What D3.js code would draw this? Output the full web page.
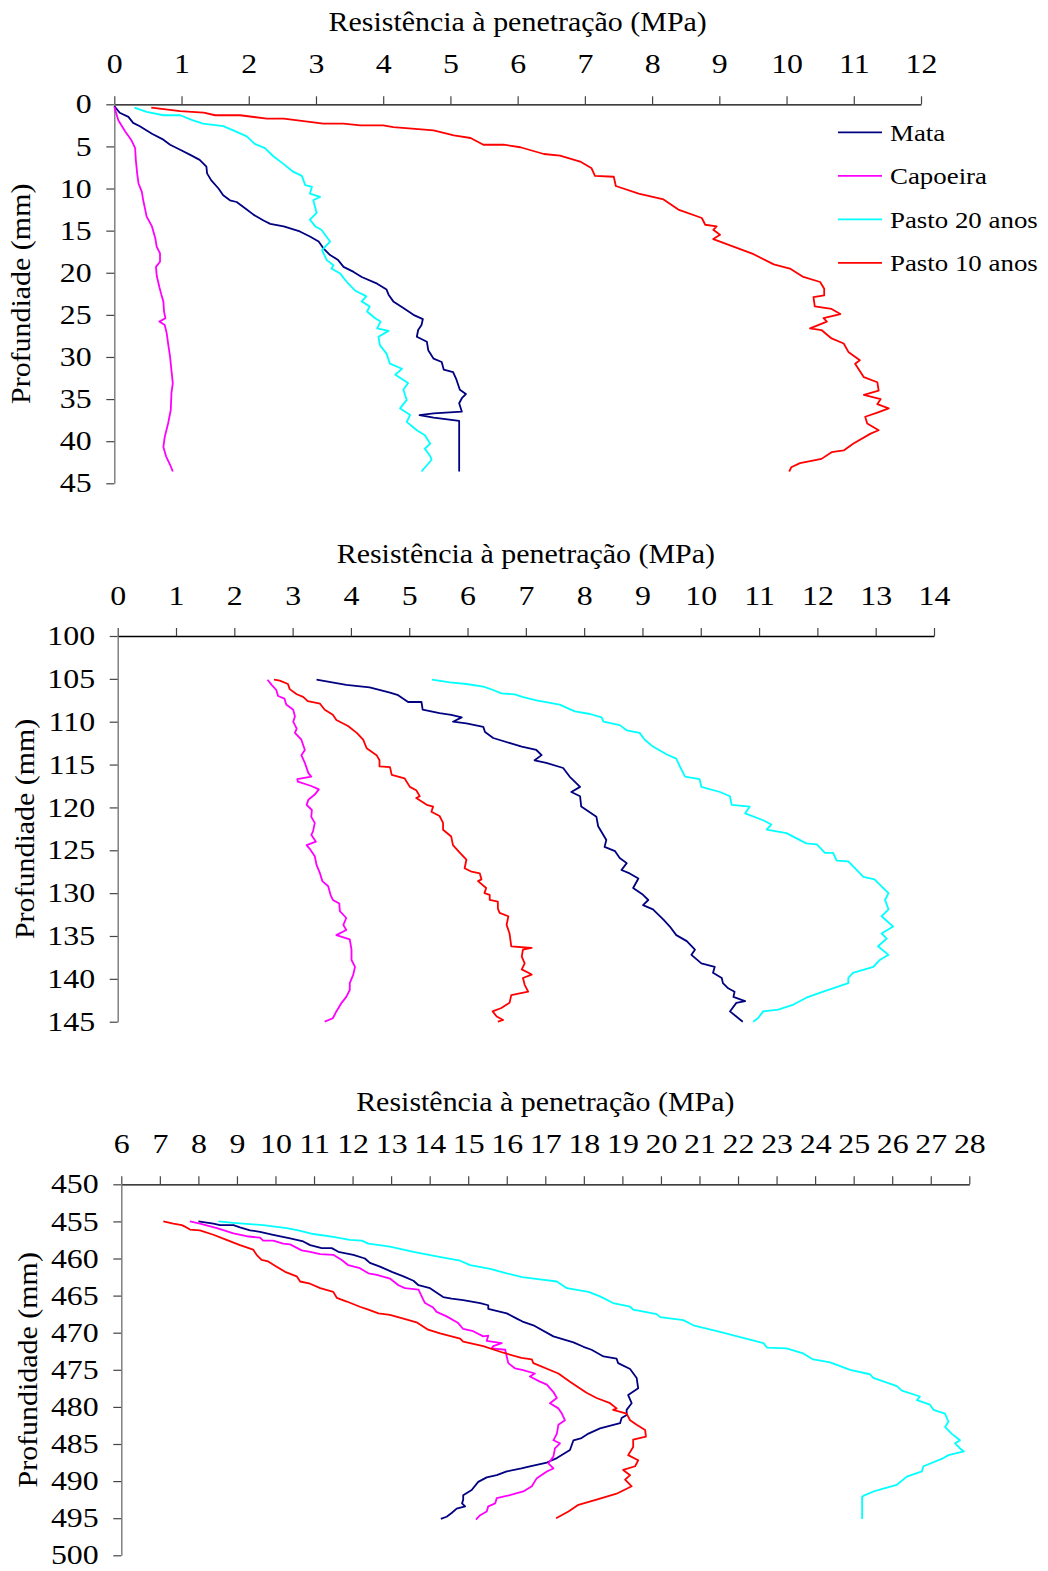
<!DOCTYPE html>
<html>
<head>
<meta charset="utf-8">
<script src="https://cdn.jsdelivr.net/npm/d3@7.9.0/dist/d3.min.js"></script>
<style>
  body { margin: 0; background: #fff; }
  svg { display: block; }
  text { font-family: "Liberation Serif", "Times New Roman", serif; fill: #000; }
</style>
</head>
<body>
<svg id="chart" width="1048" height="1571"></svg>
<script>
const seriesNames = ['Mata', 'Capoeira', 'Pasto 20 anos', 'Pasto 10 anos'];
const seriesColors = ['#000080', '#ff00ff', '#00ffff', '#ff0000'];

// each point: [resistance (MPa), depth (mm)]
// --- top panel, 0-45 mm
const mata1 = [[0,0.2],[0.08,1.0],[0.21,1.5],[0.28,2.2],[0.38,2.6],[0.56,3.5],[0.73,4.2],[0.83,4.8],[0.98,5.4],[1.13,6.0],[1.27,6.6],[1.37,7.4],[1.38,8.2],[1.44,9.0],[1.55,10.0],[1.62,10.8],[1.72,11.4],[1.82,11.6],[1.97,12.5],[2.07,13.1],[2.22,13.8],[2.32,14.2],[2.52,14.5],[2.76,15.1],[2.91,15.7],[3.04,16.3],[3.11,17.1],[3.21,17.9],[3.33,18.5],[3.41,19.3],[3.56,19.9],[3.68,20.5],[3.91,21.3],[4.05,22.0],[4.08,22.6],[4.15,23.4],[4.30,24.2],[4.45,25.0],[4.59,25.5],[4.57,26.2],[4.52,26.8],[4.50,27.6],[4.65,28.2],[4.67,29.2],[4.75,30.2],[4.87,30.6],[4.90,31.5],[5.04,31.8],[5.09,32.7],[5.14,33.9],[5.23,34.4],[5.17,34.9],[5.13,35.5],[5.17,36.5],[4.75,36.7],[4.54,36.9],[4.75,37.2],[5.13,37.6],[5.13,43.6]];
const capoeira1 = [[0,0.3],[0.06,1.9],[0.16,3.2],[0.25,4.2],[0.31,5.2],[0.32,6.6],[0.34,8.2],[0.36,9.4],[0.41,10.4],[0.43,11.4],[0.46,12.5],[0.48,13.3],[0.56,14.5],[0.61,15.9],[0.63,16.9],[0.68,17.7],[0.68,18.7],[0.62,19.3],[0.63,20.3],[0.67,21.7],[0.70,22.6],[0.73,23.4],[0.74,24.6],[0.76,25.4],[0.67,25.8],[0.75,26.2],[0.78,27.2],[0.80,28.4],[0.83,30.0],[0.85,31.6],[0.87,33.1],[0.85,34.3],[0.84,36.3],[0.80,37.9],[0.75,39.5],[0.73,40.7],[0.77,41.8],[0.83,42.8],[0.87,43.6]];
const pasto20_1 = [[0.30,0.4],[0.48,0.9],[0.73,1.3],[0.98,1.3],[1.17,1.9],[1.32,2.3],[1.62,2.6],[1.77,3.1],[1.97,3.8],[2.09,4.7],[2.24,5.2],[2.37,6.2],[2.52,7.1],[2.66,8.0],[2.79,8.5],[2.84,9.6],[2.94,9.8],[2.91,10.6],[3.06,11.0],[2.96,11.4],[3.01,12.9],[2.91,13.7],[2.99,14.5],[3.08,14.9],[3.21,16.3],[3.09,17.3],[3.16,18.5],[3.26,19.1],[3.23,19.5],[3.36,20.1],[3.46,21.1],[3.58,22.1],[3.75,22.8],[3.68,23.4],[3.80,24.0],[3.76,24.6],[3.88,25.4],[3.96,25.8],[3.91,26.6],[4.08,26.9],[3.93,27.6],[3.95,28.6],[4.05,29.6],[4.10,30.8],[4.28,31.4],[4.18,32.1],[4.37,33.1],[4.30,33.9],[4.35,35.1],[4.25,36.1],[4.40,36.9],[4.35,37.7],[4.50,38.7],[4.62,39.3],[4.70,40.3],[4.62,40.9],[4.70,41.8],[4.72,42.2],[4.57,43.6]];
const pasto10_1 = [[0.55,0.4],[0.98,0.8],[1.33,1.0],[1.50,1.3],[1.87,1.3],[2.27,1.7],[2.52,1.7],[3.11,2.3],[3.41,2.3],[3.66,2.5],[4.00,2.5],[4.15,2.7],[4.75,3.1],[5.05,3.7],[5.30,4.0],[5.49,4.8],[5.79,4.8],[6.04,5.1],[6.39,5.9],[6.63,6.1],[6.93,6.8],[7.10,7.6],[7.15,8.5],[7.43,8.6],[7.46,9.7],[7.80,10.6],[8.17,11.3],[8.39,12.5],[8.74,13.5],[8.79,14.3],[8.96,14.5],[8.91,14.9],[9.01,15.5],[8.91,16.0],[9.21,16.9],[9.51,17.8],[9.81,19.0],[10.05,19.5],[10.25,20.5],[10.50,21.1],[10.56,21.9],[10.56,22.7],[10.40,22.9],[10.42,24.0],[10.67,24.3],[10.80,24.9],[10.55,25.4],[10.60,25.8],[10.35,26.6],[10.52,26.8],[10.67,27.8],[10.85,28.4],[10.92,29.4],[11.09,30.4],[11.02,30.8],[11.15,32.4],[11.35,33.0],[11.37,34.0],[11.15,34.5],[11.40,35.0],[11.35,35.6],[11.52,36.1],[11.35,36.6],[11.17,37.1],[11.20,37.9],[11.37,38.7],[11.25,39.1],[10.99,40.3],[10.85,41.1],[10.67,41.3],[10.52,42.1],[10.20,42.6],[10.07,43.1],[10.04,43.6]];

// --- middle panel, 100-145 mm
const mata2 = [[3.41,105.1],[3.92,105.7],[4.32,106.0],[4.67,106.6],[4.81,106.9],[4.98,107.7],[5.21,107.7],[5.23,108.6],[5.52,109.0],[5.72,109.2],[5.90,109.5],[5.75,110.0],[5.98,110.2],[6.27,110.6],[6.30,111.2],[6.44,111.9],[6.73,112.5],[6.93,112.9],[7.18,113.3],[7.27,113.9],[7.15,114.5],[7.35,114.8],[7.64,115.4],[7.75,116.4],[7.93,117.6],[7.78,118.2],[7.93,118.7],[7.95,119.9],[8.21,121.1],[8.24,122.2],[8.38,123.8],[8.35,124.6],[8.53,125.1],[8.61,125.9],[8.73,126.5],[8.64,127.3],[8.78,127.7],[8.93,128.3],[8.84,129.4],[9.01,130.2],[9.10,130.8],[9.01,131.4],[9.18,131.9],[9.36,133.1],[9.47,133.9],[9.58,134.9],[9.76,135.6],[9.90,136.6],[9.84,137.2],[10.01,138.2],[10.24,138.6],[10.21,139.3],[10.36,139.9],[10.38,140.5],[10.47,141.1],[10.58,141.5],[10.56,142.1],[10.76,142.6],[10.61,142.8],[10.50,143.8],[10.61,144.4],[10.72,145.0]];
const capoeira2 = [[2.57,105.1],[2.64,105.7],[2.72,106.3],[2.75,107.0],[2.86,107.3],[2.89,108.0],[3.01,108.6],[3.04,109.4],[3.01,110.0],[3.07,110.8],[3.04,111.3],[3.15,112.1],[3.21,113.3],[3.15,113.9],[3.21,114.8],[3.27,116.0],[3.32,116.4],[3.08,116.7],[3.09,117.0],[3.32,117.5],[3.45,117.9],[3.38,118.5],[3.27,119.1],[3.24,119.7],[3.33,120.3],[3.32,121.1],[3.38,121.8],[3.35,122.8],[3.32,123.2],[3.40,124.0],[3.24,124.4],[3.29,124.8],[3.38,125.7],[3.41,126.7],[3.47,127.7],[3.51,128.6],[3.61,129.2],[3.65,130.2],[3.69,130.8],[3.80,131.2],[3.81,132.1],[3.92,132.9],[3.87,133.7],[3.92,134.3],[3.75,134.9],[3.98,135.4],[4.01,136.6],[4.01,137.8],[4.07,138.6],[4.04,139.5],[3.98,140.5],[3.98,141.3],[3.92,142.1],[3.84,142.8],[3.75,143.8],[3.69,144.6],[3.55,145.0]];
const pasto20_2 = [[5.39,105.1],[5.70,105.4],[5.98,105.6],[6.27,105.9],[6.44,106.3],[6.58,106.7],[6.81,106.8],[6.94,107.1],[7.18,107.5],[7.58,108.0],[7.84,108.8],[8.10,109.1],[8.30,109.5],[8.33,110.0],[8.61,110.4],[8.73,111.0],[8.95,111.3],[9.04,112.1],[9.18,112.9],[9.41,113.8],[9.58,114.3],[9.64,115.2],[9.73,116.4],[9.98,116.7],[10.01,117.6],[10.33,118.2],[10.50,118.7],[10.53,119.7],[10.84,119.9],[10.76,120.7],[11.07,121.5],[11.21,122.0],[11.13,122.6],[11.47,123.0],[11.81,124.2],[11.99,124.3],[12.13,125.3],[12.27,125.3],[12.33,126.2],[12.53,126.3],[12.79,128.1],[12.98,128.4],[13.10,129.2],[13.22,130.0],[13.16,130.8],[13.22,131.9],[13.10,132.7],[13.30,133.9],[13.10,134.7],[13.19,135.3],[13.04,136.2],[13.22,137.2],[13.07,137.8],[12.96,138.6],[12.61,139.3],[12.53,139.9],[12.53,140.5],[12.10,141.5],[11.81,142.2],[11.59,143.0],[11.33,143.6],[11.07,143.8],[10.98,144.6],[10.90,145.0]];
const pasto10_2 = [[2.68,105.1],[2.78,105.2],[2.92,105.6],[2.95,106.2],[3.07,106.8],[3.18,107.1],[3.26,107.6],[3.47,107.9],[3.55,108.6],[3.69,109.2],[3.75,109.8],[3.95,110.5],[4.10,111.3],[4.21,112.1],[4.27,113.1],[4.44,113.9],[4.49,114.5],[4.49,115.2],[4.67,115.3],[4.70,116.2],[4.92,116.6],[5.01,117.6],[5.12,118.0],[5.18,118.7],[5.12,118.9],[5.30,119.7],[5.41,119.9],[5.38,120.5],[5.52,121.0],[5.58,121.8],[5.58,122.6],[5.72,123.4],[5.75,124.4],[5.87,125.3],[5.98,126.1],[5.95,127.1],[6.07,127.5],[6.21,127.7],[6.24,128.4],[6.18,128.6],[6.32,129.4],[6.29,130.0],[6.38,130.2],[6.38,130.8],[6.52,131.0],[6.52,131.8],[6.55,132.3],[6.70,132.7],[6.67,133.7],[6.72,134.7],[6.75,136.2],[7.10,136.4],[6.95,136.6],[6.93,137.4],[6.98,138.2],[6.93,138.9],[7.10,139.5],[6.95,139.9],[6.98,140.7],[7.04,141.5],[6.75,141.9],[6.72,142.8],[6.58,143.4],[6.43,143.8],[6.50,144.4],[6.61,144.8],[6.52,145.0]];

// --- bottom panel, 450-500 mm
const mata3 = [[8.00,455.0],[8.39,455.3],[8.56,455.5],[8.91,455.5],[9.08,455.8],[9.34,456.2],[9.60,456.4],[9.94,456.8],[10.38,457.3],[10.72,457.7],[10.90,458.2],[11.20,458.6],[11.46,458.6],[11.63,459.1],[12.02,459.5],[12.32,460.0],[12.45,460.6],[12.71,461.1],[13.02,461.8],[13.32,462.4],[13.58,463.0],[13.71,463.6],[14.01,464.0],[14.35,465.2],[14.57,465.4],[14.87,465.6],[15.31,466.0],[15.52,466.3],[15.52,466.8],[16.00,467.4],[16.26,468.1],[16.41,468.5],[16.69,469.0],[17.21,470.5],[17.73,471.3],[17.99,471.9],[18.20,472.3],[18.51,473.2],[18.85,473.5],[18.89,474.1],[19.20,474.9],[19.37,476.1],[19.41,477.5],[19.15,478.4],[19.24,479.5],[19.11,480.4],[19.11,481.1],[18.98,481.5],[18.94,482.2],[18.42,482.9],[18.12,483.6],[17.94,484.2],[17.73,484.5],[17.64,485.8],[17.30,486.9],[17.04,487.5],[16.60,488.0],[16.38,488.3],[16.00,488.7],[15.74,489.2],[15.48,489.5],[15.26,490.1],[15.09,491.2],[14.87,491.9],[14.87,492.5],[14.84,493.0],[14.92,493.4],[14.70,493.7],[14.57,494.3],[14.44,494.8],[14.29,495.1]];
const capoeira3 = [[7.78,455.0],[8.04,455.3],[8.48,455.9],[8.91,456.6],[9.25,457.0],[9.60,457.2],[9.68,457.6],[9.94,457.6],[10.20,458.0],[10.38,458.1],[10.68,458.9],[10.90,459.1],[11.16,459.4],[11.50,459.5],[11.72,460.2],[11.89,460.9],[12.19,461.3],[12.41,462.0],[12.63,462.2],[12.97,462.7],[13.19,463.6],[13.36,464.0],[13.71,464.2],[13.84,465.6],[13.88,466.0],[14.09,466.6],[14.18,467.2],[14.44,467.8],[14.74,468.7],[14.87,469.5],[15.13,469.8],[15.39,470.5],[15.52,470.4],[15.48,471.1],[15.87,471.4],[15.65,471.8],[15.61,472.1],[15.96,472.3],[16.00,473.2],[16.04,474.1],[16.21,474.8],[16.40,475.0],[16.73,475.5],[16.60,475.9],[16.86,476.6],[17.04,477.0],[17.21,478.0],[17.30,478.8],[17.12,479.5],[17.34,480.2],[17.43,480.9],[17.51,481.8],[17.34,482.4],[17.30,483.6],[17.21,484.5],[17.38,484.9],[17.25,485.6],[17.21,486.7],[17.08,487.6],[17.21,488.3],[17.04,488.7],[16.78,489.6],[16.65,490.7],[16.43,491.4],[16.08,491.9],[15.74,492.3],[15.70,493.0],[15.52,493.4],[15.48,494.1],[15.31,494.6],[15.20,495.2]];
const pasto20_3 = [[8.52,455.0],[8.91,455.2],[9.68,455.5],[10.29,455.9],[10.59,456.2],[10.98,456.7],[11.50,457.1],[11.93,457.5],[12.24,457.6],[12.41,458.0],[12.97,458.4],[13.58,459.1],[14.18,459.7],[14.79,460.3],[15.05,460.9],[15.57,461.4],[16.00,462.0],[16.40,462.5],[16.86,462.8],[17.30,463.1],[17.56,464.0],[18.12,464.5],[18.42,465.1],[18.76,466.0],[19.20,466.5],[19.28,466.9],[19.89,467.5],[19.98,467.9],[20.58,468.3],[20.84,469.0],[21.53,469.9],[22.66,471.4],[22.75,472.0],[23.26,472.1],[23.69,472.8],[23.95,473.6],[24.39,474.0],[24.91,475.0],[25.42,475.6],[25.51,476.1],[26.12,477.2],[26.25,477.8],[26.72,478.6],[26.64,479.1],[26.98,479.7],[27.07,480.4],[27.37,480.9],[27.46,482.0],[27.37,482.7],[27.54,483.6],[27.76,484.5],[27.63,484.9],[27.76,485.6],[27.86,486.0],[27.46,486.5],[27.33,486.9],[26.81,488.0],[26.77,488.7],[26.38,489.4],[26.12,490.5],[25.77,491.0],[25.51,491.4],[25.25,492.0],[25.22,492.1],[25.22,495.1]];
const pasto10_3 = [[7.09,455.0],[7.35,455.3],[7.57,455.5],[7.65,455.7],[7.78,456.1],[8.04,456.2],[8.39,456.8],[8.73,457.5],[9.08,458.2],[9.42,458.8],[9.51,459.5],[9.64,460.2],[9.81,460.4],[10.03,461.1],[10.25,461.8],[10.55,462.4],[10.64,463.1],[10.90,463.4],[11.16,464.0],[11.50,464.5],[11.59,465.3],[11.85,465.8],[12.19,466.5],[12.41,466.9],[12.67,467.4],[12.97,467.6],[13.32,468.1],[13.66,468.6],[13.84,469.2],[13.96,469.6],[14.27,470.1],[14.79,470.8],[14.87,471.2],[15.39,471.8],[15.91,472.7],[16.38,473.4],[16.65,473.6],[16.69,474.1],[17.34,475.5],[17.64,476.6],[18.07,478.1],[18.33,478.8],[18.68,479.5],[18.85,480.2],[18.76,480.4],[19.11,480.9],[19.20,481.8],[19.37,482.4],[19.59,483.1],[19.61,484.0],[19.28,484.4],[19.28,485.4],[19.15,486.5],[19.41,487.2],[19.33,488.0],[19.02,488.5],[19.20,489.2],[19.07,489.8],[19.24,490.7],[18.85,491.7],[18.33,492.5],[17.86,493.2],[17.60,494.1],[17.28,495.0]];

const panels = [
  { series: [mata1, capoeira1, pasto20_1, pasto10_1], xDomain: [0, 12], yDomain: [0, 45],
    left: 114.3, right: 921, top: 104.3, bottom: 483.3, yTitle: 'Profundiade (mm)', legend: true },
  { series: [mata2, capoeira2, pasto20_2, pasto10_2], xDomain: [0, 14], yDomain: [100, 145],
    left: 117.7, right: 934, top: 636, bottom: 1021.7, yTitle: 'Profundiade (mm)', legend: false },
  { series: [mata3, capoeira3, pasto20_3, pasto10_3], xDomain: [6, 28], yDomain: [450, 500],
    left: 121.3, right: 969.3, top: 1184.3, bottom: 1555.3, yTitle: 'Profundidade (mm)', legend: false }
];

const svg = d3.select('#chart');
const TICK_SX = 1.18, TITLE_SX = 1.07, LEG_SX = 1.12;

panels.forEach(p => {
  const x = d3.scaleLinear().domain(p.xDomain).range([p.left, p.right]);
  const y = d3.scaleLinear().domain(p.yDomain).range([p.top, p.bottom]);
  const g = svg.append('g');

  // top axis
  const xAxis = g.append('g').attr('transform', `translate(0,${p.top})`)
    .call(d3.axisTop(x).tickValues(d3.range(p.xDomain[0], p.xDomain[1] + 1)).tickSize(8).tickSizeOuter(0).tickPadding(23));
  xAxis.select('.domain').attr('stroke', '#000').attr('stroke-width', 1.3);
  xAxis.selectAll('.tick line').attr('stroke', '#444').attr('stroke-width', 1.2);
  xAxis.selectAll('.tick text').attr('font-size', 27).attr('font-family', null)
    .attr('transform', `scale(${TICK_SX},1)`);

  // left axis
  const yAxis = g.append('g').attr('transform', `translate(${p.left},0)`)
    .call(d3.axisLeft(y).tickValues(d3.range(p.yDomain[0], p.yDomain[1] + 1, 5)).tickSize(8).tickSizeOuter(0).tickPadding(14.6));
  yAxis.select('.domain').attr('stroke', '#808080').attr('stroke-width', 1.5);
  yAxis.selectAll('.tick line').attr('stroke', '#444').attr('stroke-width', 1.2);
  yAxis.selectAll('.tick text').attr('font-size', 27).attr('font-family', null)
    .attr('x', 0).attr('transform', `translate(-22.6,0) scale(${TICK_SX},1)`);

  // titles
  g.append('text')
    .attr('transform', `translate(${(p.left + p.right) / 2},${p.top - 73}) scale(${TITLE_SX},1)`)
    .attr('text-anchor', 'middle').attr('font-size', 28)
    .text('Resistência à penetração (MPa)');
  g.append('text')
    .attr('transform', `translate(${p.left - 84},${(p.top + p.bottom) / 2}) rotate(-90) scale(${TITLE_SX},1)`)
    .attr('text-anchor', 'middle').attr('font-size', 28)
    .text(p.yTitle);

  // curves
  const line = d3.line().x(d => x(d[0])).y(d => y(d[1]));
  p.series.forEach((s, i) => {
    g.append('path').datum(s)
      .attr('d', line)
      .attr('fill', 'none')
      .attr('stroke', seriesColors[i])
      .attr('stroke-width', 1.8)
      .attr('stroke-linejoin', 'round');
  });

  if (p.legend) {
    const leg = g.append('g').attr('transform', 'translate(838,132.3)');
    seriesNames.forEach((name, i) => {
      const row = leg.append('g').attr('transform', `translate(0,${i * 43.5})`);
      row.append('line').attr('x1', 0).attr('x2', 44).attr('stroke', seriesColors[i]).attr('stroke-width', 1.8);
      row.append('text').attr('transform', `translate(52,8.4) scale(${LEG_SX},1)`)
        .attr('font-size', 24).text(name);
    });
  }
});
</script>
</body>
</html>
